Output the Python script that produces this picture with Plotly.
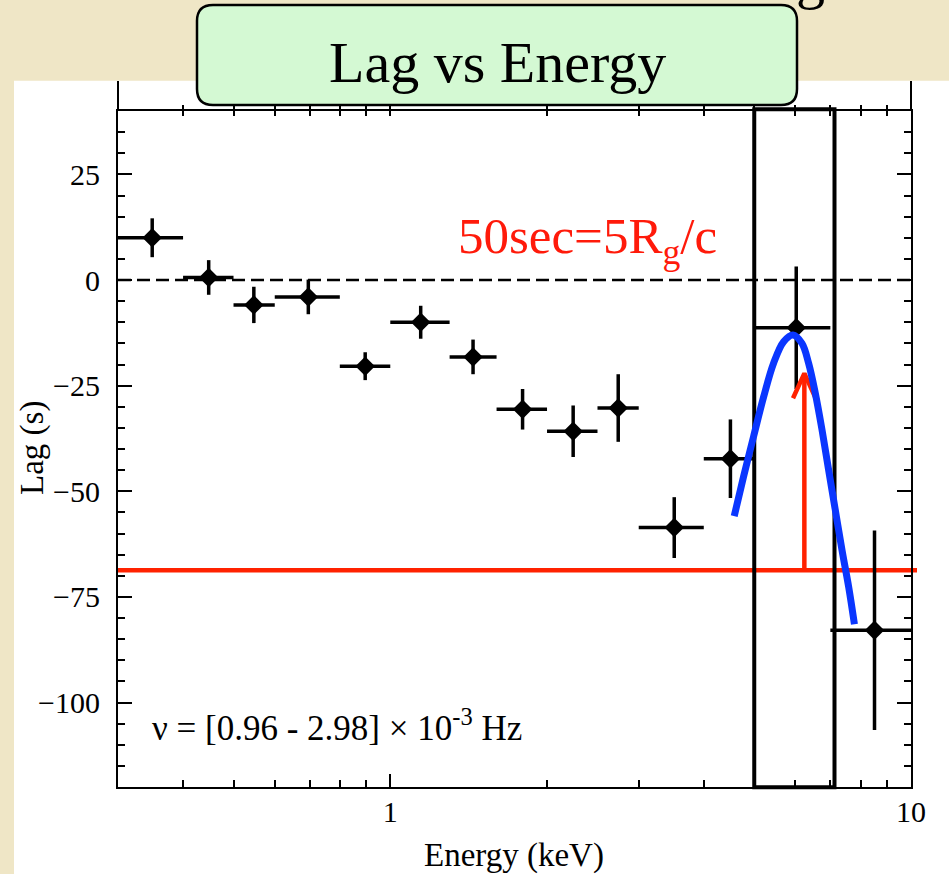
import numpy as np
import plotly.graph_objects as go

# ---------------- data ----------------
energy = [0.349, 0.448, 0.547, 0.696, 0.895, 1.144, 1.442, 1.795, 2.245, 2.74, 3.51, 4.50, 6.02, 8.51]
e_lo = [0.30, 0.40, 0.50, 0.60, 0.80, 1.00, 1.30, 1.60, 2.00, 2.50, 3.00, 4.00, 5.00, 7.00]
e_hi = [0.40, 0.50, 0.60, 0.80, 1.00, 1.30, 1.60, 2.00, 2.50, 3.00, 4.00, 5.00, 7.00, 10.0]
lag = [10.0, 0.6, -5.9, -4.0, -20.4, -10.0, -18.2, -30.6, -35.8, -30.3, -58.6, -42.3, -11.3, -82.9]
lag_err = [4.6, 4.1, 4.3, 4.1, 3.3, 3.9, 4.1, 4.8, 6.1, 8.0, 7.2, 9.3, 14.5, 23.6]

# hand-drawn blue profile
curve_e = [4.576, 4.768, 4.984, 5.211, 5.446, 5.693, 5.935, 6.175, 6.359, 6.550,
           6.748, 6.948, 7.157, 7.372, 7.592, 7.787]
curve_lag = [-55.9, -46.6, -37.1, -27.7, -19.7, -14.6, -13.0, -15.0, -19.7, -26.8,
             -35.5, -45.0, -54.5, -64.0, -72.7, -81.5]

# red reference level and arrow
ref_level = -68.7
arrow_e = 6.24
arrow_tip = -22.1
barb_e = [5.935, 6.56]
barb_lag = -28.0

# highlighted energy band (Fe K)
band = [5.0, 7.13]

x_range = [0.3, 10]
y_range = [-120, 40]
x_major = [1, 10]
x_minor = [0.4, 0.5, 0.6, 0.7, 0.8, 0.9, 2, 3, 4, 5, 6, 7, 8, 9]

SERIF = "Liberation Serif"
W, H = 949, 874
ML, MR, MT, MB = 118, 38, 111, 87
PW, PH = W - ML - MR, H - MT - MB


def px(xp):
    return (xp - ML) / PW


def py(yp):
    return (H - MB - yp) / PH


fig = go.Figure()

fig.add_trace(go.Scatter(
    x=energy, y=lag, mode="markers",
    marker=dict(symbol="diamond", size=15, color="black"),
    error_x=dict(type="data", symmetric=False,
                 array=[h - e for h, e in zip(e_hi, energy)],
                 arrayminus=[e - l for e, l in zip(energy, e_lo)],
                 thickness=3.5, width=0, color="black"),
    error_y=dict(type="data", array=lag_err, thickness=3.5, width=0, color="black"),
    showlegend=False, hoverinfo="skip"))

# red arrow
fig.add_trace(go.Scatter(
    x=[arrow_e, arrow_e, None, barb_e[0], arrow_e, barb_e[1]],
    y=[ref_level, arrow_tip, None, barb_lag, arrow_tip, barb_lag],
    mode="lines", line=dict(color="#ff2200", width=4.5),
    showlegend=False, hoverinfo="skip"))

# blue curve
fig.add_trace(go.Scatter(
    x=curve_e, y=curve_lag, mode="lines", line=dict(color="#0a36ff", width=7, shape="spline"),
    showlegend=False, hoverinfo="skip"))

# invisible traces to carry the top tick axes
for ax in ["x2", "x3"]:
    fig.add_trace(go.Scatter(x=[energy[0]], y=[lag[0]], xaxis=ax, mode="markers",
                             marker=dict(opacity=0), showlegend=False, hoverinfo="skip"))

tickfont = dict(family=SERIF, size=30, color="black")
logr = [np.log10(x_range[0]), np.log10(x_range[1])]

top_common = dict(type="log", range=logr, overlaying="x", side="top", anchor="y",
                  tickmode="array", tickvals=x_minor + [1], showticklabels=False,
                  ticklen=5, tickwidth=1.5, tickcolor="black",
                  showline=False, showgrid=False, zeroline=False)

fig.update_layout(
    width=W, height=H,
    margin=dict(l=ML, r=MR, t=MT, b=MB, autoexpand=False),
    paper_bgcolor="#efe6c6", plot_bgcolor="white",
    showlegend=False,
    xaxis=dict(type="log", range=logr, tickmode="array", tickvals=x_major,
               ticktext=[str(v) for v in x_major],
               ticks="inside", ticklen=13, tickwidth=1.5, tickcolor="black",
               minor=dict(tickmode="array", tickvals=x_minor, ticks="inside", ticklen=7,
                          tickwidth=1.5, tickcolor="black", showgrid=False),
               showline=True, linewidth=2, linecolor="black", mirror=True,
               showgrid=False, zeroline=False, tickfont=tickfont, ticklabelstandoff=-3),
    xaxis2=dict(ticks="outside", **top_common),
    xaxis3=dict(ticks="inside", **top_common),
    yaxis=dict(range=y_range, tickmode="linear", tick0=0, dtick=25,
               ticks="inside", ticklen=14, tickwidth=1.5, tickcolor="black",
               minor=dict(dtick=5, ticks="inside", ticklen=7, tickwidth=1.5,
                          tickcolor="black", showgrid=False),
               showline=True, linewidth=2, linecolor="black", mirror="ticks",
               showgrid=False, zeroline=False, tickfont=tickfont, ticklabelstandoff=10),
)

# rounded title box (paper coords)
bx0, bx1, by0, by1 = px(197), px(797), py(105), py(5)
rx, ry = 16 / PW, 16 / PH
box_path = (f"M{bx0+rx},{by1} L{bx1-rx},{by1} Q{bx1},{by1} {bx1},{by1-ry} "
            f"L{bx1},{by0+ry} Q{bx1},{by0} {bx1-rx},{by0} L{bx0+rx},{by0} "
            f"Q{bx0},{by0} {bx0},{by0+ry} L{bx0},{by1-ry} Q{bx0},{by1} {bx0+rx},{by1} Z")

shapes = [
    # white figure panel on the slide
    dict(type="rect", xref="paper", yref="paper", x0=px(14), x1=px(960), y0=py(880), y1=py(80.7),
         fillcolor="white", line=dict(width=0), layer="below"),
    dict(type="path", xref="paper", yref="paper", path=box_path,
         fillcolor="#d4f9d3", line=dict(color="black", width=2.5), layer="below"),
    # axis lines continuing above the frame
    dict(type="line", xref="paper", yref="paper", x0=0, x1=0, y0=1, y1=py(81),
         line=dict(color="black", width=2), layer="below"),
    dict(type="line", xref="paper", yref="paper", x0=1, x1=1, y0=1, y1=py(81),
         line=dict(color="black", width=2), layer="below"),
    # zero line
    dict(type="line", xref="paper", yref="y", x0=0, x1=1, y0=0, y1=0,
         line=dict(color="black", width=2.5, dash="13px,6px"), layer="below"),
    # red reference level
    dict(type="line", xref="paper", yref="y", x0=0, x1=px(917), y0=ref_level, y1=ref_level,
         line=dict(color="#ff2200", width=4.5), layer="below"),
    # highlighted band
    dict(type="rect", xref="x", yref="paper", x0=band[0], x1=band[1], y0=py(787.3), y1=py(109.3),
         line=dict(color="black", width=4), fillcolor="rgba(0,0,0,0)", layer="below"),
]
fig.update_layout(shapes=shapes)

# axis titles
fig.add_annotation(xref="paper", yref="paper", x=px(514), y=py(855), text="Energy (keV)",
                   showarrow=False, xanchor="center", yanchor="middle",
                   font=dict(family=SERIF, size=33, color="black"))
fig.add_annotation(xref="paper", yref="paper", x=px(32), y=py(448), text="Lag (s)",
                   textangle=-90, showarrow=False, xanchor="center", yanchor="middle",
                   font=dict(family=SERIF, size=33, color="black"))

fig.add_annotation(xref="paper", yref="paper", x=px(497), y=py(62), text="Lag vs Energy",
                   showarrow=False, xanchor="center", yanchor="middle",
                   font=dict(family=SERIF, size=58, color="black"))
fig.add_annotation(xref="paper", yref="paper", x=px(456), y=py(240),
                   text="50sec=5R<sub>g</sub>/c",
                   showarrow=False, xanchor="left", yanchor="middle",
                   font=dict(family=SERIF, size=51, color="#ff1a0a"))
fig.add_annotation(xref="paper", yref="paper", x=px(150), y=py(725),
                   text="ν = [0.96 - 2.98] × 10<sup>-3</sup> Hz",
                   showarrow=False, xanchor="left", yanchor="middle",
                   font=dict(family=SERIF, size=35, color="black"))
fig.add_annotation(xref="paper", yref="paper", x=px(810), y=py(-22), text="g",
                   showarrow=False, xanchor="center", yanchor="middle",
                   font=dict(family=SERIF, size=58, color="black"))

fig.write_html("out.html", config={"displayModeBar": False})
